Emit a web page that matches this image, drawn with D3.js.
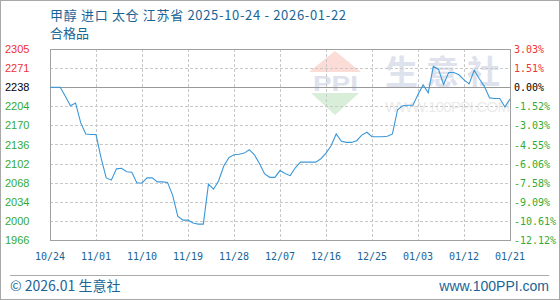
<!DOCTYPE html>
<html lang="zh">
<head>
<meta charset="UTF-8">
<title>甲醇 进口 太仓 江苏省</title>
<script src="https://cdnjs.cloudflare.com/ajax/libs/d3/7.8.5/d3.min.js"></script>
<style>
    body { margin: 0; background: #fff; }
    .grid line { stroke: #c8c8c8; stroke-dasharray: 3,2; shape-rendering: crispEdges; }
    .price-line { fill: none; stroke: #3a98d8; stroke-width: 1.1; }
</style>
</head>
<body>
<div id="chart"></div>
<script>
    // values
    const basePrice = 2238;
    const xLabels = ["10/24", "11/01", "11/10", "11/19", "11/28", "12/07", "12/16", "12/25", "01/03", "01/12", "01/21"];
    const priceLabels = ["2305", "2271", "2238", "2204", "2170", "2136", "2102", "2068", "2034", "2000", "1966"];
    const pctLabels = ["3.03%", "1.51%", "0.00%", "-1.52%", "-3.03%", "-4.55%", "-6.06%", "-7.58%", "-9.09%", "-10.61%", "-12.12%"];
    const pctTicks = [3.03, 1.515, 0, -1.515, -3.03, -4.545, -6.06, -7.575, -9.09, -10.605, -12.12];
    const prices = [
        2238, 2238, 2238, 2222, 2205, 2210, 2175, 2155, 2154, 2154,
        2112, 2077, 2073, 2093, 2094, 2088, 2087, 2068, 2068, 2077,
        2077, 2070, 2070, 2069, 2046, 2009, 2002, 2002, 1997, 1995,
        1995, 2066, 2057, 2072, 2098, 2113, 2118, 2119, 2121, 2127,
        2118, 2102, 2084, 2078, 2078, 2090, 2085, 2081, 2095, 2105,
        2105, 2105, 2105, 2111, 2121, 2134, 2155, 2142, 2140, 2140,
        2143, 2153, 2158, 2150, 2150, 2150, 2151, 2155, 2198, 2205,
        2206, 2206, 2225, 2242, 2228, 2275, 2270, 2243, 2264, 2264,
        2260, 2251, 2244, 2268, 2253, 2239, 2219, 2218, 2218, 2203,
        2217
    ];

    const W = 560, H = 300;
    const plot = {left: 50, right: 510, top: 49, bottom: 240};
    const up = "#ee3333", down = "#33aa33", blue = "#1a6496";

    const svg = d3.select("#chart").append("svg")
        .attr("width", W)
        .attr("height", H)
        .style("display", "block");

    // outer frame
    svg.append("rect")
        .attr("x", 0.5).attr("y", 0.5)
        .attr("width", W - 1).attr("height", H - 1)
        .attr("fill", "#fff")
        .attr("stroke", "#a8a8a8");

    const x = d3.scaleLinear()
        .domain([0, prices.length - 1])
        .range([plot.left, plot.right]);

    const y = d3.scaleLinear()
        .domain([basePrice * (1 - 0.1212), basePrice * (1 + 0.0303)])
        .range([plot.bottom, plot.top]);

    const tickIdx = xLabels.map((d, i) => i * 9);
    const tickVals = pctTicks.map(p => basePrice * (1 + p / 100));

    // watermark
    const wm = svg.append("g");
    wm.append("path")
        .attr("d", "M335,51 L361,72 L309,72 Z")
        .attr("fill", "#fbdcd6");
    wm.append("text")
        .attr("x", 313).attr("y", 91)
        .attr("font-family", "Liberation Sans, Arial, sans-serif")
        .attr("font-weight", "bold")
        .attr("font-size", 22)
        .attr("textLength", 45)
        .attr("lengthAdjust", "spacingAndGlyphs")
        .attr("fill", "#dde2ec")
        .text("PPI");
    wm.append("path")
        .attr("d", "M311,93 L359,93 L335,115 Z")
        .attr("fill", "#d8eed8");
    wm.append("text")
        .attr("x", 385).attr("y", 84)
        .attr("font-family", "Noto Sans CJK SC, sans-serif")
        .attr("font-weight", "bold")
        .attr("font-size", 33)
        .attr("letter-spacing", 8)
        .attr("fill", "#dee2ec")
        .text("生意社");
    wm.append("text")
        .attr("x", 385).attr("y", 112)
        .attr("font-family", "Liberation Sans, Arial, sans-serif")
        .attr("font-size", 15)
        .attr("textLength", 125)
        .attr("fill", "#ebebeb")
        .text("WWW.100PPI.COM");

    // grid
    svg.append("g").attr("class", "grid")
        .selectAll("line")
        .data(tickVals)
        .join("line")
        .attr("x1", plot.left).attr("x2", plot.right)
        .attr("y1", d => Math.round(y(d)) + 0.5)
        .attr("y2", d => Math.round(y(d)) + 0.5);

    svg.append("g").attr("class", "grid")
        .selectAll("line")
        .data(tickIdx.slice(1, -1))
        .join("line")
        .attr("y1", plot.top).attr("y2", plot.bottom)
        .attr("x1", d => Math.round(x(d)) + 0.5)
        .attr("x2", d => Math.round(x(d)) + 0.5);

    // base line
    svg.append("line")
        .attr("x1", plot.left).attr("x2", plot.right)
        .attr("y1", Math.round(y(basePrice)) + 0.5)
        .attr("y2", Math.round(y(basePrice)) + 0.5)
        .attr("stroke", "#999")
        .attr("shape-rendering", "crispEdges");

    // plot frame
    svg.append("rect")
        .attr("x", plot.left + 0.5).attr("y", plot.top + 0.5)
        .attr("width", plot.right - plot.left).attr("height", plot.bottom - plot.top)
        .attr("fill", "none")
        .attr("stroke", "#a0a0a0")
        .attr("shape-rendering", "crispEdges");

    // price line
    svg.append("path")
        .datum(prices)
        .attr("class", "price-line")
        .attr("d", d3.line()
            .x((d, i) => x(i))
            .y(d => y(d)));

    // left axis labels
    const colorFor = i => i < 2 ? up : (i === 2 ? "#000" : down);
    svg.append("g")
        .selectAll("text")
        .data(tickVals)
        .join("text")
        .attr("x", 5)
        .attr("y", d => y(d) + 4)
        .attr("font-family", "Liberation Sans, Arial, sans-serif")
        .attr("font-size", 11)
        .attr("fill", (d, i) => colorFor(i))
        .text((d, i) => priceLabels[i]);

    // right axis labels
    svg.append("g")
        .selectAll("text")
        .data(tickVals)
        .join("text")
        .attr("x", 514)
        .attr("y", d => y(d) + 4)
        .attr("font-family", "DejaVu Sans Mono, monospace")
        .attr("font-size", 10)
        .attr("fill", (d, i) => colorFor(i))
        .text((d, i) => pctLabels[i]);

    // x axis labels
    svg.append("g")
        .selectAll("text")
        .data(tickIdx)
        .join("text")
        .attr("x", d => x(d))
        .attr("y", 260)
        .attr("text-anchor", "middle")
        .attr("font-family", "DejaVu Sans Mono, monospace")
        .attr("font-size", 10)
        .attr("fill", blue)
        .text((d, i) => xLabels[i]);

    // title
    svg.append("text")
        .attr("x", 50).attr("y", 20)
        .attr("font-family", "Noto Sans CJK SC, sans-serif")
        .attr("font-size", 13)
        .attr("textLength", 296)
        .attr("fill", blue)
        .text("甲醇 进口 太仓 江苏省 2025-10-24 - 2026-01-22");
    svg.append("text")
        .attr("x", 50).attr("y", 38)
        .attr("font-family", "Noto Sans CJK SC, sans-serif")
        .attr("font-size", 13)
        .attr("fill", blue)
        .text("合格品");

    // footer
    svg.append("line")
        .attr("x1", 10).attr("x2", 549)
        .attr("y1", 275.5).attr("y2", 275.5)
        .attr("stroke", "#aaa");
    svg.append("text")
        .attr("x", 10).attr("y", 291)
        .attr("font-family", "Noto Sans CJK SC, sans-serif")
        .attr("font-size", 14)
        .attr("fill", blue)
        .text("© 2026.01 生意社");
    svg.append("text")
        .attr("x", 549).attr("y", 291)
        .attr("text-anchor", "end")
        .attr("font-family", "Liberation Sans, Arial, sans-serif")
        .attr("font-size", 14)
        .attr("fill", blue)
        .text("www.100PPI.com");
</script>
</body>
</html>
